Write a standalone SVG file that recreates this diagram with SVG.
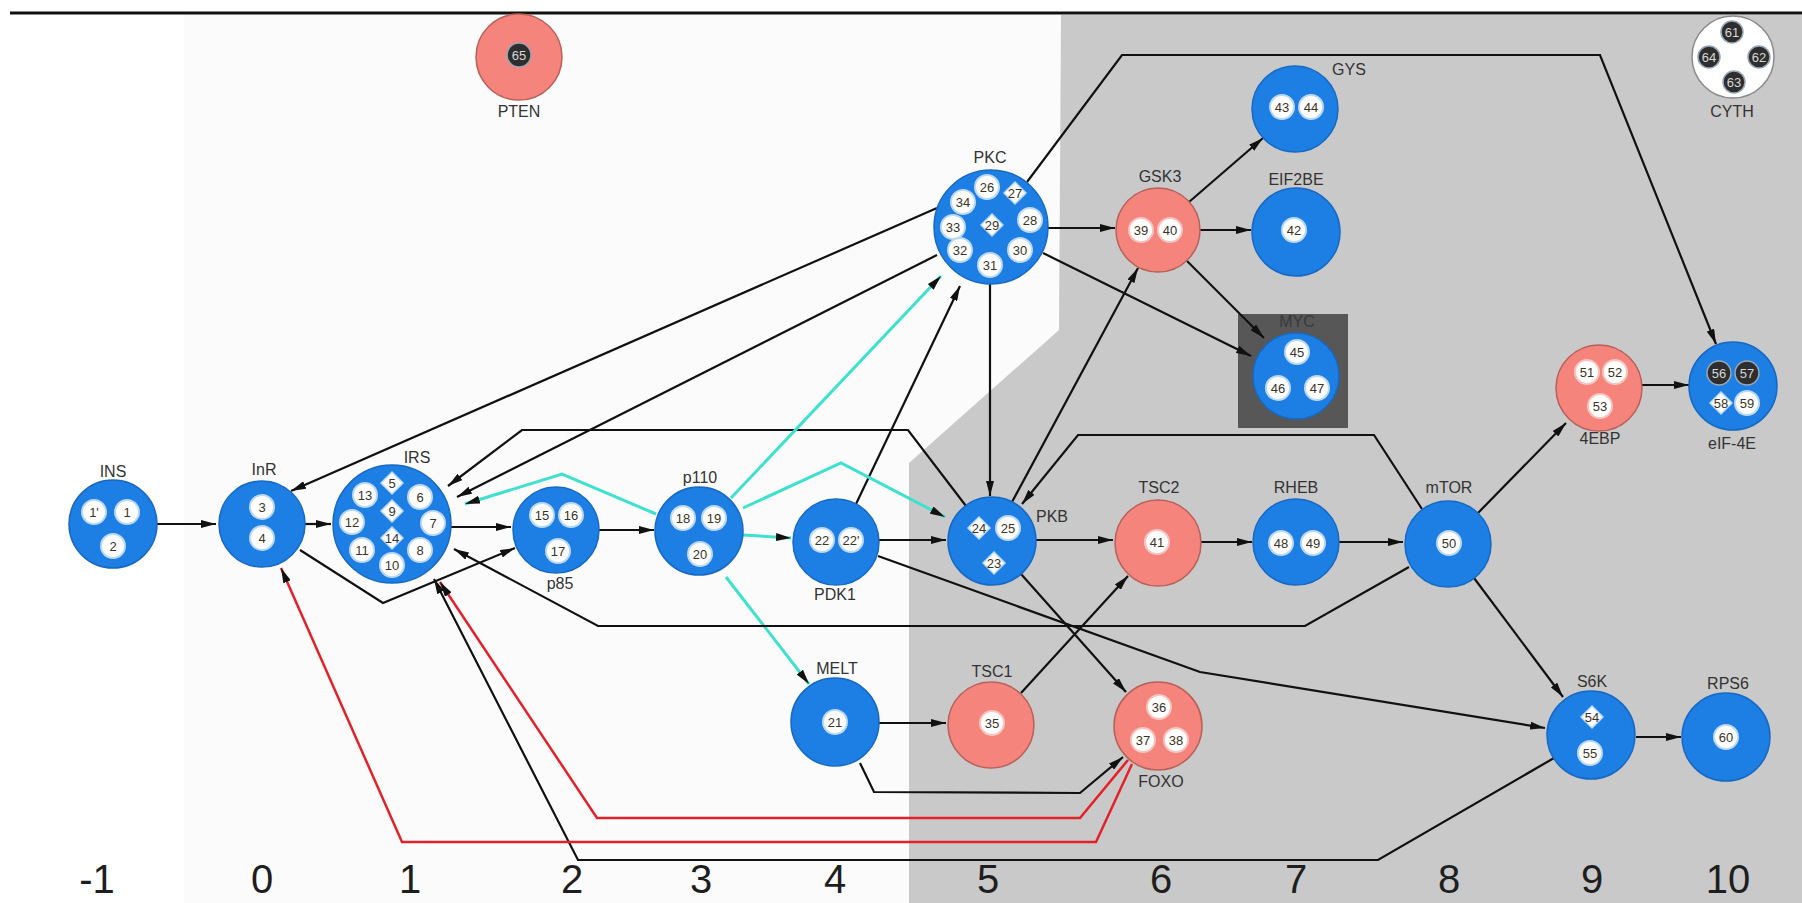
<svg xmlns="http://www.w3.org/2000/svg" width="1802" height="903" viewBox="0 0 1802 903">
<style>
  .blue { fill: #1d7fe3; stroke: #1769c4; stroke-width: 1.5; }
  .pink { fill: #f4847c; stroke: #b8615a; stroke-width: 1.5; }
  .white { fill: #ffffff; stroke: #8a8a8a; stroke-width: 1.5; }
  .in { fill: #ffffff; stroke: #bcd8f2; stroke-width: 2; }
  .inp { fill: #ffffff; stroke: #f7c4bf; stroke-width: 2; }
  .dk { fill: #2e2e2e; stroke: #9aa7b5; stroke-width: 1.5; }
  .dia { fill: #ffffff; stroke: #bcd8f2; stroke-width: 1.5; }
  .lbl { font-family: "Liberation Sans", Arial, sans-serif; font-size: 16px; fill: #333333; text-anchor: middle; }
  .num { font-family: "Liberation Sans", Arial, sans-serif; font-size: 13px; fill: #3a3326; text-anchor: middle; }
  .numw { font-family: "Liberation Sans", Arial, sans-serif; font-size: 13px; fill: #d8d8d8; text-anchor: middle; }
  .axis { font-family: "Liberation Sans", Arial, sans-serif; font-size: 40px; fill: #1e1e1e; text-anchor: middle; }
  .e { fill: none; stroke: #111111; stroke-width: 2.2; stroke-linejoin: miter; }
  .cy { fill: none; stroke: #3ee0cf; stroke-width: 3; }
  .rd { fill: none; stroke: #e42029; stroke-width: 2.5; }
</style>
<defs>
  <marker id="ah" viewBox="0 0 15 8" refX="15" refY="4" markerWidth="15" markerHeight="8" markerUnits="userSpaceOnUse" orient="auto">
    <path d="M0,0 L15,4 L0,8 z" fill="#111111"/>
  </marker>
</defs>

<!-- background bands -->
<g id="background">
  <rect x="0" y="0" width="1802" height="903" fill="#ffffff"/>
  <rect x="184" y="14" width="1618" height="889" fill="#fbfbfb"/>
  <polygon points="1061,15 1802,15 1802,903 909,903 909,463 1059,330" fill="#c9c9c9"/>
  <line x1="10" y1="13" x2="1802" y2="13" stroke="#111111" stroke-width="3"/>
</g>

<!-- dark compartment behind MYC -->
<g id="MYC-box">
  <rect x="1238" y="314" width="110" height="114" fill="#575757"/>
  <text class="lbl" x="1297" y="327" style="fill:#3a3a3a">MYC</text>
</g>

<!-- connectors -->
<g id="connectors">
  <path class="e" marker-end="url(#ah)" d="M157,524 L216,524"/>
  <path class="e" marker-end="url(#ah)" d="M305,524 L331,524"/>
  <path class="e" marker-end="url(#ah)" d="M451,527 L511,527"/>
  <path class="e" marker-end="url(#ah)" d="M599,530 L654,530"/>
  <path class="cy" marker-end="url(#ah)" d="M743,535 L791,538"/>
  <path class="e" marker-end="url(#ah)" d="M879,540 L946,540"/>
  <path class="e" marker-end="url(#ah)" d="M1036,540 L1113,540"/>
  <path class="e" marker-end="url(#ah)" d="M1201,542 L1252,542"/>
  <path class="e" marker-end="url(#ah)" d="M1339,542 L1403,542"/>
  <path class="e" marker-end="url(#ah)" d="M1478,513 L1566,423"/>
  <path class="e" marker-end="url(#ah)" d="M1642,385 L1689,385"/>
  <path class="e" marker-end="url(#ah)" d="M1474,578 L1563,697"/>
  <path class="e" marker-end="url(#ah)" d="M1636,737 L1681,737"/>
  <path class="e" marker-end="url(#ah)" d="M879,723 L946,723"/>
  <path class="e" marker-end="url(#ah)" d="M1021,693 L1128,576"/>
  <path class="e" marker-end="url(#ah)" d="M1021,574 L1126,692"/>
  <path class="e" marker-end="url(#ah)" d="M878,556 L1200,672 L1545,728"/>
  <path class="e" marker-end="url(#ah)" d="M1422,509 L1374,435 L1078,435 L1022,504"/>
  <path class="e" marker-end="url(#ah)" d="M990,284 L990,496"/>
  <path class="e" marker-end="url(#ah)" d="M1012,502 L1138,268"/>
  <path class="e" marker-end="url(#ah)" d="M1048,228 L1115,228"/>
  <path class="e" marker-end="url(#ah)" d="M1189,202 L1263,138"/>
  <path class="e" marker-end="url(#ah)" d="M1200,230 L1251,230"/>
  <path class="e" marker-end="url(#ah)" d="M1187,261 L1264,338"/>
  <path class="e" marker-end="url(#ah)" d="M1043,253 L1251,356"/>
  <path class="e" marker-end="url(#ah)" d="M1027,182 L1122,55 L1600,55 L1716,344"/>
  <path class="e" marker-end="url(#ah)" d="M937,208 L291,491"/>
  <path class="e" marker-end="url(#ah)" d="M937,255 L457,497"/>
  <path class="e" marker-end="url(#ah)" d="M966,506 L908,430 L522,430 L448,486"/>
  <path class="cy" marker-end="url(#ah)" d="M656,514 L562,474 L465,504"/>
  <path class="e" marker-end="url(#ah)" d="M856,504 L960,286"/>
  <path class="cy" marker-end="url(#ah)" d="M731,498 L941,276"/>
  <path class="cy" marker-end="url(#ah)" d="M743,508 L841,463 L945,517"/>
  <path class="cy" marker-end="url(#ah)" d="M726,577 L809,684"/>
  <path class="e" marker-end="url(#ah)" d="M300,550 L383,603 L515,548"/>
  <path class="e" marker-end="url(#ah)" d="M1409,567 L1305,626 L598,626 L454,549"/>
  <path class="e" marker-end="url(#ah)" d="M1554,758 L1378,860 L578,860 L434,579"/>
  <path class="rd" marker-end="url(#ah)" d="M1128,760 L1080,818 L597,818 L440,582"/>
  <path class="rd" marker-end="url(#ah)" d="M1132,764 L1096,842 L402,842 L281,568"/>
  <path class="e" marker-end="url(#ah)" d="M860,763 L874,792 L1080,793 L1123,757"/>
</g>

<!-- nodes -->
<g id="PTEN">
  <circle class="pink" cx="519" cy="57" r="43"/>
  <circle class="dk" cx="519" cy="55" r="12"/><text class="numw" x="519" y="59.5">65</text>
  <text class="lbl" x="519" y="117">PTEN</text>
</g>
<g id="CYTH">
  <circle class="white" cx="1733" cy="57" r="41"/>
  <circle class="dk" cx="1732" cy="32" r="11"/><text class="numw" x="1732" y="36.5">61</text>
  <circle class="dk" cx="1759" cy="57" r="11"/><text class="numw" x="1759" y="61.5">62</text>
  <circle class="dk" cx="1734" cy="82" r="11"/><text class="numw" x="1734" y="86.5">63</text>
  <circle class="dk" cx="1709" cy="57" r="11"/><text class="numw" x="1709" y="61.5">64</text>
  <text class="lbl" x="1732" y="117">CYTH</text>
</g>
<g id="INS">
  <circle class="blue" cx="113" cy="524" r="44"/>
  <circle class="in" cx="94" cy="512" r="12"/><text class="num" x="94" y="516.5">1'</text>
  <circle class="in" cx="127" cy="512" r="12"/><text class="num" x="127" y="516.5">1</text>
  <circle class="in" cx="113" cy="546" r="12"/><text class="num" x="113" y="550.5">2</text>
  <text class="lbl" x="113" y="477">INS</text>
</g>
<g id="InR">
  <circle class="blue" cx="262" cy="524" r="43"/>
  <circle class="in" cx="262" cy="507" r="12"/><text class="num" x="262" y="511.5">3</text>
  <circle class="in" cx="262" cy="538" r="12"/><text class="num" x="262" y="542.5">4</text>
  <text class="lbl" x="264" y="475">InR</text>
</g>
<g id="IRS">
  <circle class="blue" cx="392" cy="524" r="59"/>
  <polygon class="dia" points="392,472 403,483 392,494 381,483"/><text class="num" x="392" y="487.5">5</text>
  <circle class="in" cx="365" cy="495" r="12"/><text class="num" x="365" y="499.5">13</text>
  <circle class="in" cx="420" cy="497" r="12"/><text class="num" x="420" y="501.5">6</text>
  <circle class="in" cx="352" cy="522" r="12"/><text class="num" x="352" y="526.5">12</text>
  <polygon class="dia" points="392,500 403,511 392,522 381,511"/><text class="num" x="392" y="515.5">9</text>
  <circle class="in" cx="433" cy="523" r="12"/><text class="num" x="433" y="527.5">7</text>
  <circle class="in" cx="362" cy="550" r="12"/><text class="num" x="362" y="554.5">11</text>
  <polygon class="dia" points="392,527 403,538 392,549 381,538"/><text class="num" x="392" y="542.5">14</text>
  <circle class="in" cx="420" cy="550" r="12"/><text class="num" x="420" y="554.5">8</text>
  <circle class="in" cx="392" cy="565" r="12"/><text class="num" x="392" y="569.5">10</text>
  <text class="lbl" x="417" y="463">IRS</text>
</g>
<g id="p85">
  <circle class="blue" cx="556" cy="530" r="43"/>
  <circle class="in" cx="542" cy="515" r="12"/><text class="num" x="542" y="519.5">15</text>
  <circle class="in" cx="571" cy="515" r="12"/><text class="num" x="571" y="519.5">16</text>
  <circle class="in" cx="558" cy="551" r="12"/><text class="num" x="558" y="555.5">17</text>
  <text class="lbl" x="560" y="589">p85</text>
</g>
<g id="p110">
  <circle class="blue" cx="699" cy="531" r="44"/>
  <circle class="in" cx="683" cy="518" r="12"/><text class="num" x="683" y="522.5">18</text>
  <circle class="in" cx="714" cy="518" r="12"/><text class="num" x="714" y="522.5">19</text>
  <circle class="in" cx="700" cy="554" r="12"/><text class="num" x="700" y="558.5">20</text>
  <text class="lbl" x="700" y="483">p110</text>
</g>
<g id="PDK1">
  <circle class="blue" cx="836" cy="542" r="43"/>
  <circle class="in" cx="822" cy="540" r="12"/><text class="num" x="822" y="544.5">22</text>
  <circle class="in" cx="851" cy="540" r="12"/><text class="num" x="851" y="544.5">22'</text>
  <text class="lbl" x="835" y="600">PDK1</text>
</g>
<g id="PKB">
  <circle class="blue" cx="992" cy="541" r="44"/>
  <polygon class="dia" points="979,517 990,528 979,539 968,528"/><text class="num" x="979" y="532.5">24</text>
  <circle class="in" cx="1008" cy="528" r="12"/><text class="num" x="1008" y="532.5">25</text>
  <polygon class="dia" points="994,552 1005,563 994,574 983,563"/><text class="num" x="994" y="567.5">23</text>
  <text class="lbl" x="1052" y="522">PKB</text>
</g>
<g id="PKC">
  <circle class="blue" cx="991" cy="227" r="57"/>
  <circle class="in" cx="987" cy="187" r="12"/><text class="num" x="987" y="191.5">26</text>
  <polygon class="dia" points="1015,182 1026,193 1015,204 1004,193"/><text class="num" x="1015" y="197.5">27</text>
  <circle class="in" cx="963" cy="202" r="12"/><text class="num" x="963" y="206.5">34</text>
  <polygon class="dia" points="992,214 1003,225 992,236 981,225"/><text class="num" x="992" y="229.5">29</text>
  <circle class="in" cx="1030" cy="220" r="12"/><text class="num" x="1030" y="224.5">28</text>
  <circle class="in" cx="953" cy="227" r="12"/><text class="num" x="953" y="231.5">33</text>
  <circle class="in" cx="960" cy="250" r="12"/><text class="num" x="960" y="254.5">32</text>
  <circle class="in" cx="1020" cy="250" r="12"/><text class="num" x="1020" y="254.5">30</text>
  <circle class="in" cx="990" cy="265" r="12"/><text class="num" x="990" y="269.5">31</text>
  <text class="lbl" x="990" y="163">PKC</text>
</g>
<g id="GSK3">
  <circle class="pink" cx="1158" cy="230" r="42"/>
  <circle class="inp" cx="1141" cy="230" r="12"/><text class="num" x="1141" y="234.5">39</text>
  <circle class="inp" cx="1170" cy="230" r="12"/><text class="num" x="1170" y="234.5">40</text>
  <text class="lbl" x="1160" y="182">GSK3</text>
</g>
<g id="GYS">
  <circle class="blue" cx="1295" cy="109" r="43"/>
  <circle class="in" cx="1282" cy="107" r="12"/><text class="num" x="1282" y="111.5">43</text>
  <circle class="in" cx="1311" cy="107" r="12"/><text class="num" x="1311" y="111.5">44</text>
  <text class="lbl" x="1349" y="75">GYS</text>
</g>
<g id="EIF2BE">
  <circle class="blue" cx="1296" cy="232" r="44"/>
  <circle class="in" cx="1294" cy="230" r="12"/><text class="num" x="1294" y="234.5">42</text>
  <text class="lbl" x="1296" y="185">EIF2BE</text>
</g>
<g id="MYC">
  <circle class="blue" cx="1296" cy="376" r="43"/>
  <circle class="in" cx="1297" cy="352" r="12"/><text class="num" x="1297" y="356.5">45</text>
  <circle class="in" cx="1278" cy="388" r="12"/><text class="num" x="1278" y="392.5">46</text>
  <circle class="in" cx="1317" cy="388" r="12"/><text class="num" x="1317" y="392.5">47</text>
</g>
<g id="TSC2">
  <circle class="pink" cx="1158" cy="543" r="43"/>
  <circle class="inp" cx="1157" cy="542" r="12"/><text class="num" x="1157" y="546.5">41</text>
  <text class="lbl" x="1159" y="493">TSC2</text>
</g>
<g id="RHEB">
  <circle class="blue" cx="1296" cy="542" r="43"/>
  <circle class="in" cx="1281" cy="543" r="12"/><text class="num" x="1281" y="547.5">48</text>
  <circle class="in" cx="1313" cy="543" r="12"/><text class="num" x="1313" y="547.5">49</text>
  <text class="lbl" x="1296" y="493">RHEB</text>
</g>
<g id="mTOR">
  <circle class="blue" cx="1448" cy="544" r="43"/>
  <circle class="in" cx="1449" cy="543" r="12"/><text class="num" x="1449" y="547.5">50</text>
  <text class="lbl" x="1449" y="493">mTOR</text>
</g>
<g id="EBP4">
  <circle class="pink" cx="1599" cy="388" r="43"/>
  <circle class="inp" cx="1587" cy="372" r="12"/><text class="num" x="1587" y="376.5">51</text>
  <circle class="inp" cx="1615" cy="372" r="12"/><text class="num" x="1615" y="376.5">52</text>
  <circle class="inp" cx="1600" cy="406" r="12"/><text class="num" x="1600" y="410.5">53</text>
  <text class="lbl" x="1600" y="444">4EBP</text>
</g>
<g id="eIF4E">
  <circle class="blue" cx="1733" cy="386" r="44"/>
  <circle class="dk" cx="1719" cy="373" r="12"/><text class="numw" x="1719" y="377.5">56</text>
  <circle class="dk" cx="1747" cy="373" r="12"/><text class="numw" x="1747" y="377.5">57</text>
  <polygon class="dia" points="1721,392 1732,403 1721,414 1710,403"/><text class="num" x="1721" y="407.5">58</text>
  <circle class="in" cx="1747" cy="403" r="12"/><text class="num" x="1747" y="407.5">59</text>
  <text class="lbl" x="1732" y="449">eIF-4E</text>
</g>
<g id="MELT">
  <circle class="blue" cx="835" cy="722" r="44"/>
  <circle class="in" cx="835" cy="722" r="12"/><text class="num" x="835" y="726.5">21</text>
  <text class="lbl" x="837" y="674">MELT</text>
</g>
<g id="TSC1">
  <circle class="pink" cx="991" cy="725" r="43"/>
  <circle class="inp" cx="992" cy="723" r="12"/><text class="num" x="992" y="727.5">35</text>
  <text class="lbl" x="992" y="677">TSC1</text>
</g>
<g id="FOXO">
  <circle class="pink" cx="1158" cy="726" r="44"/>
  <circle class="inp" cx="1159" cy="707" r="12"/><text class="num" x="1159" y="711.5">36</text>
  <circle class="inp" cx="1143" cy="740" r="12"/><text class="num" x="1143" y="744.5">37</text>
  <circle class="inp" cx="1176" cy="740" r="12"/><text class="num" x="1176" y="744.5">38</text>
  <text class="lbl" x="1161" y="787">FOXO</text>
</g>
<g id="S6K">
  <circle class="blue" cx="1591" cy="735" r="44"/>
  <polygon class="dia" points="1592,706 1603,717 1592,728 1581,717"/><text class="num" x="1592" y="721.5">54</text>
  <circle class="in" cx="1590" cy="753" r="12"/><text class="num" x="1590" y="757.5">55</text>
  <text class="lbl" x="1592" y="687">S6K</text>
</g>
<g id="RPS6">
  <circle class="blue" cx="1726" cy="737" r="44"/>
  <circle class="in" cx="1726" cy="737" r="12"/><text class="num" x="1726" y="741.5">60</text>
  <text class="lbl" x="1728" y="689">RPS6</text>
</g>

<!-- column indices -->
<g id="axis">
  <text class="axis" x="97" y="893">-1</text>
  <text class="axis" x="262" y="893">0</text>
  <text class="axis" x="410" y="893">1</text>
  <text class="axis" x="572" y="893">2</text>
  <text class="axis" x="701" y="893">3</text>
  <text class="axis" x="835" y="893">4</text>
  <text class="axis" x="988" y="893">5</text>
  <text class="axis" x="1161" y="893">6</text>
  <text class="axis" x="1296" y="893">7</text>
  <text class="axis" x="1449" y="893">8</text>
  <text class="axis" x="1592" y="893">9</text>
  <text class="axis" x="1728" y="893">10</text>
</g>
</svg>
